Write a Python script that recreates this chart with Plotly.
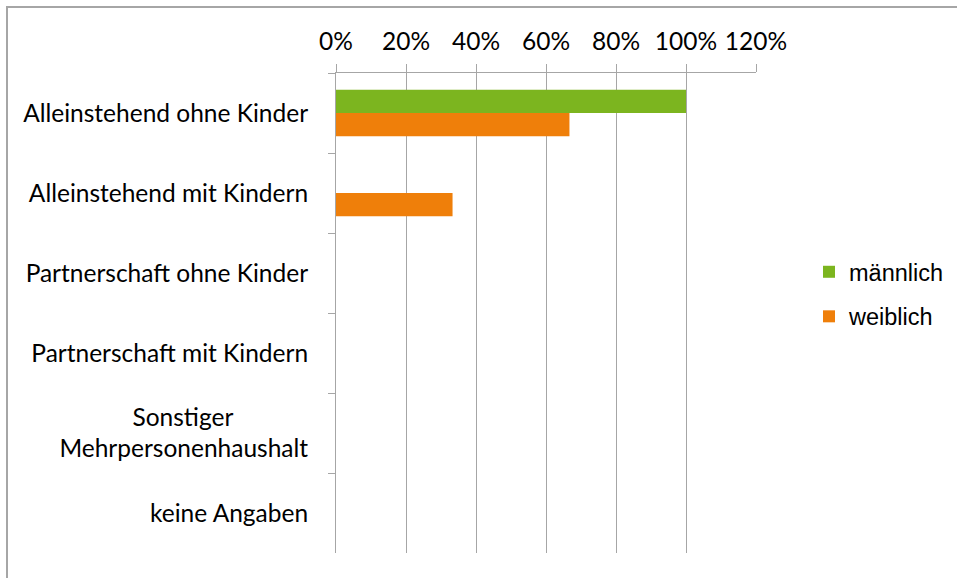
import plotly.graph_objects as go

# categories and shares
categories = [
    "Alleinstehend ohne Kinder",
    "Alleinstehend mit Kindern",
    "Partnerschaft ohne Kinder",
    "Partnerschaft mit Kindern",
    "Sonstiger" + "\u00a0" * 12 + "<br>Mehrpersonenhaushalt",
    "keine Angaben",
]
maennlich = [1.0, 0.0, 0.0, 0.0, 0.0, 0.0]
weiblich = [0.667, 0.333, 0.0, 0.0, 0.0, 0.0]
x_ticks = [0, 0.2, 0.4, 0.6, 0.8, 1.0, 1.2]

W, H = 957, 578
L, R, T, B = 336, 201, 73, 25
pw, ph = W - L - R, H - T - B

grid = "#a6a6a6"
cat_font = dict(family="Lato", size=24.5, color="#000000")

fig = go.Figure()
fig.add_trace(go.Bar(
    y=categories, x=maennlich, name="männlich", orientation="h",
    marker=dict(color="#7cb51f", line=dict(width=0)),
    legendgroup="m",
))
fig.add_trace(go.Bar(
    y=categories, x=weiblich, name="weiblich", orientation="h",
    marker=dict(color="#ef7f0a", line=dict(width=0)),
    legendgroup="w",
))

fig.update_layout(
    width=W, height=H,
    margin=dict(l=L, r=R, t=T, b=B, pad=0, autoexpand=False),
    paper_bgcolor="white", plot_bgcolor="white",
    barmode="group", bargap=0.42, bargroupgap=0,
    legend=dict(
        x=(809 - L) / pw, xanchor="left",
        y=1 - (294.5 - T) / ph, yanchor="middle",
        font=dict(family="Liberation Sans", size=23.5, color="#000000"),
        tracegroupgap=11, bgcolor="rgba(0,0,0,0)",
    ),
    showlegend=True,
)
fig.update_xaxes(
    side="top", range=[0, 1.2], tickvals=x_ticks, tickformat=".0%",
    showgrid=True, gridcolor=grid, gridwidth=1,
    showline=True, linecolor=grid, linewidth=1,
    ticks="outside", ticklen=8, tickcolor=grid,
    tickfont=cat_font, ticklabelstandoff=4, zeroline=False,
)
fig.update_yaxes(
    autorange="reversed", showgrid=False,
    showline=True, linecolor=grid, linewidth=1,
    ticks="outside", ticklen=7, tickcolor=grid, tickson="boundaries",
    tickfont=cat_font, ticklabelstandoff=22,
)
# outer chart border (runs off the right and bottom edge)
fig.add_shape(
    type="rect", xref="paper", yref="paper",
    x0=(7 - L) / pw, x1=(W + 60 - L) / pw,
    y0=-(B + 60) / ph, y1=1 + (T - 7) / ph,
    line=dict(color=grid, width=2), layer="below",
)

fig.write_html(
    "out.html",
    config={"displayModeBar": False},
    post_script="document.body.style.margin='0';",
)
